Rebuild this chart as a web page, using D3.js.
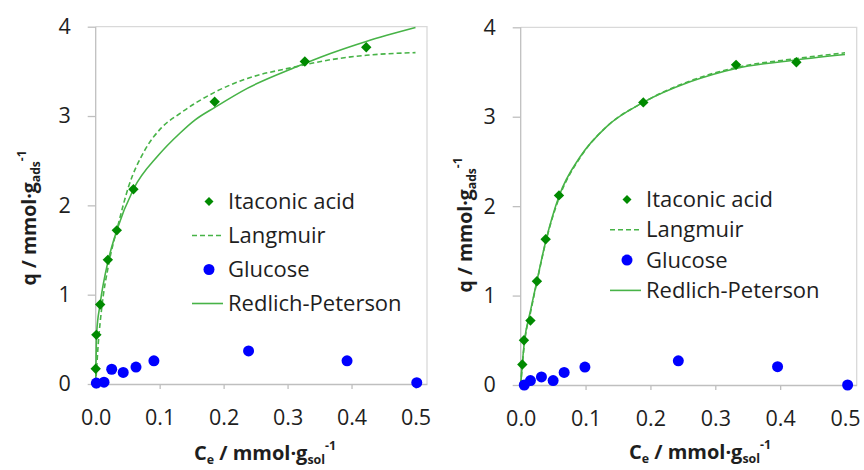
<!DOCTYPE html>
<html>
<head>
<meta charset="utf-8">
<script src="https://cdn.jsdelivr.net/npm/d3@7"></script>
<style>
  body { margin: 0; background: #fff; }
  text { font-family: "Open Sans", sans-serif; fill: #1e1e1e; }
</style>
</head>
<body>
<div id="chart"></div>
<script>
// Tick values
const ceTicks = [0, 0.1, 0.2, 0.3, 0.4, 0.5];
const qTicks = [0, 1, 2, 3, 4];

// Left panel: measured points
const itaconicCeA = [0.000, 0.001, 0.007, 0.019, 0.033, 0.059, 0.186, 0.327, 0.423];
const itaconicQA  = [0.17, 0.55, 0.89, 1.39, 1.72, 2.18, 3.16, 3.61, 3.77];
const glucoseCeA  = [0.001, 0.013, 0.025, 0.043, 0.063, 0.091, 0.239, 0.393, 0.502];
const glucoseQA   = [0.01, 0.02, 0.165, 0.13, 0.19, 0.26, 0.37, 0.26, 0.015];
// Left panel: fitted curves
const langmuirCeA = [0, 0.004, 0.0094, 0.02, 0.035, 0.051, 0.077, 0.103, 0.132, 0.187, 0.237, 0.312, 0.367, 0.423, 0.5];
const langmuirQA  = [0, 0.45, 0.85, 1.33, 1.78, 2.20, 2.62, 2.87, 3.03, 3.27, 3.42, 3.55, 3.63, 3.68, 3.71];
const rpCeA = [0, 0.0015, 0.0067, 0.0198, 0.033, 0.059, 0.098, 0.132, 0.156, 0.187, 0.237, 0.312, 0.367, 0.423, 0.5];
const rpQA  = [0, 0.57, 0.885, 1.39, 1.72, 2.18, 2.56, 2.81, 2.96, 3.10, 3.31, 3.545, 3.70, 3.835, 3.99];

// Right panel: measured points
const itaconicCeB = [0.0025, 0.005, 0.015, 0.025, 0.0385, 0.059, 0.189, 0.332, 0.425];
const itaconicQB  = [0.23, 0.50, 0.72, 1.16, 1.63, 2.12, 3.16, 3.58, 3.61];
const glucoseCeB  = [0.0055, 0.015, 0.032, 0.050, 0.067, 0.099, 0.243, 0.396, 0.504];
const glucoseQB   = [0.00, 0.05, 0.09, 0.05, 0.14, 0.20, 0.27, 0.205, 0.00];
// Right panel: fitted curves
const fitCeB = [0, 0.0025, 0.0055, 0.0154, 0.0246, 0.039, 0.0595, 0.0914, 0.1325, 0.189, 0.261, 0.332, 0.425, 0.5];
const langmuirQB = [0, 0.22, 0.45, 0.82, 1.14, 1.61, 2.10, 2.54, 2.89, 3.16, 3.40, 3.55, 3.65, 3.715];
const rpQB       = [0, 0.24, 0.47, 0.84, 1.15, 1.62, 2.12, 2.55, 2.89, 3.16, 3.39, 3.54, 3.635, 3.695];

const W = 864, H = 470;
const green = "#008a00", lineGreen = "#47b347", blue = "#0000ff";
const axisGray = "#bfbfbf", borderGray = "#d9d9d9";
const tickFs = 21.5, legendFs = 22;

const svg = d3.select("#chart").append("svg")
  .attr("width", W)
  .attr("height", H);

const zip = (xs, ys) => xs.map((x, i) => ({ x: x, y: ys[i] }));

// text with subscripts / superscripts
function richText(t, parts, size) {
  let shift = 0;
  parts.forEach(([s, kind]) => {
    const target = kind === "sub" ? size * 0.2 : kind === "sup" ? -size * 0.5 : 0;
    t.append("tspan")
      .attr("dy", target - shift)
      .attr("font-size", kind === "base" ? size : size * 0.62)
      .text(s);
    shift = target;
  });
}

function drawPanel(p) {
  const x = d3.scaleLinear().domain([0, 0.518]).range([p.left, p.right]);
  const y = d3.scaleLinear().domain([0, 4]).range([p.bottom, p.top]);
  const g = svg.append("g");

  // plot area border (top / right)
  g.append("path")
    .attr("d", `M${p.left},${p.top}H${p.right}V${p.bottom}`)
    .attr("fill", "none")
    .attr("stroke", borderGray)
    .attr("stroke-width", 1.3);

  // axes
  const xa = g.append("g")
    .attr("transform", `translate(0,${p.bottom})`)
    .call(d3.axisBottom(x).tickValues(ceTicks).tickFormat(d3.format(".1f")).tickSize(5).tickPadding(21).tickSizeOuter(0));
  const ya = g.append("g")
    .attr("transform", `translate(${p.left},0)`)
    .call(d3.axisLeft(y).tickValues(qTicks).tickFormat(d3.format("d")).tickSize(8).tickPadding(17).tickSizeOuter(0));
  [xa, ya].forEach(a => {
    a.select(".domain").attr("stroke", axisGray).attr("stroke-width", 1.3);
    a.selectAll(".tick line").attr("stroke", axisGray).attr("stroke-width", 1.3);
    a.selectAll(".tick text").attr("font-size", tickFs).attr("font-family", "Open Sans").attr("fill", "#1e1e1e");
  });
  ya.select(".domain").attr("d", `M0,${p.top}V${p.bottom}`);

  // fitted curves
  const line = d3.line().x(d => x(d.x)).y(d => y(d.y)).curve(d3.curveMonotoneX);
  g.append("path")
    .datum(zip(p.langCe, p.langQ))
    .attr("d", line)
    .attr("fill", "none")
    .attr("stroke", lineGreen)
    .attr("stroke-width", 1.6)
    .attr("stroke-dasharray", "5,3");
  g.append("path")
    .datum(zip(p.rpCe, p.rpQ))
    .attr("d", line)
    .attr("fill", "none")
    .attr("stroke", lineGreen)
    .attr("stroke-width", 1.6);

  // glucose points
  g.selectAll("circle.glu")
    .data(zip(p.gluCe, p.gluQ))
    .join("circle")
    .attr("class", "glu")
    .attr("cx", d => x(d.x))
    .attr("cy", d => y(d.y))
    .attr("r", 5.5)
    .attr("fill", blue);

  // itaconic acid points
  const diamond = "M0,-5.2L5.2,0L0,5.2L-5.2,0Z";
  g.selectAll("path.ita")
    .data(zip(p.itaCe, p.itaQ))
    .join("path")
    .attr("class", "ita")
    .attr("d", diamond)
    .attr("transform", d => `translate(${x(d.x)},${y(d.y)})`)
    .attr("fill", green);

  // legend
  const L = p.legend;
  const lg = g.append("g");
  const rows = ["Itaconic acid", "Langmuir", "Glucose", "Redlich-Peterson"];
  rows.forEach((r, i) => {
    const by = L.y + i * L.step;
    lg.append("text").attr("x", L.textX).attr("y", by).attr("font-size", legendFs).text(r);
    const my = by - 7.5;
    if (i === 0) {
      lg.append("path").attr("d", "M0,-4.5L4.5,0L0,4.5L-4.5,0Z")
        .attr("transform", `translate(${L.markX},${my})`).attr("fill", green);
    } else if (i === 2) {
      lg.append("circle").attr("cx", L.markX).attr("cy", my).attr("r", 5.5).attr("fill", blue);
    } else {
      lg.append("line")
        .attr("x1", L.lineX0).attr("x2", L.lineX1).attr("y1", my).attr("y2", my)
        .attr("stroke", lineGreen).attr("stroke-width", 1.6)
        .attr("stroke-dasharray", i === 1 ? "5,3" : null);
    }
  });

  // axis titles
  const xt = g.append("text")
    .attr("transform", `translate(${p.xTitle[0]},${p.xTitle[1]})`)
    .attr("text-anchor", "middle")
    .attr("font-weight", "bold");
  richText(xt, [["C", "base"], ["e", "sub"], [" / mmol·g", "base"], ["sol", "sub"], ["-1", "sup"]], 20);

  const yt = g.append("text")
    .attr("transform", `translate(${p.yTitle[0]},${p.yTitle[1]}) rotate(-90)`)
    .attr("text-anchor", "middle")
    .attr("font-weight", "bold");
  richText(yt, [["q / mmol·g", "base"], ["ads", "sub"], ["-1", "sup"]], 19.5);
}

drawPanel({
  left: 95.7, right: 427, top: 26.7, bottom: 384,
  itaCe: itaconicCeA, itaQ: itaconicQA,
  gluCe: glucoseCeA, gluQ: glucoseQA,
  langCe: langmuirCeA, langQ: langmuirQA,
  rpCe: rpCeA, rpQ: rpQA,
  legend: { y: 209, step: 34, textX: 228, markX: 209, lineX0: 192, lineX1: 223 },
  xTitle: [265, 460], yTitle: [36, 218]
});

drawPanel({
  left: 520.7, right: 856.7, top: 27.3, bottom: 385,
  itaCe: itaconicCeB, itaQ: itaconicQB,
  gluCe: glucoseCeB, gluQ: glucoseQB,
  langCe: fitCeB, langQ: langmuirQB,
  rpCe: fitCeB, rpQ: rpQB,
  legend: { y: 207, step: 30.3, textX: 646, markX: 627, lineX0: 610, lineX1: 641 },
  xTitle: [700, 459], yTitle: [472, 225]
});
</script>
</body>
</html>
